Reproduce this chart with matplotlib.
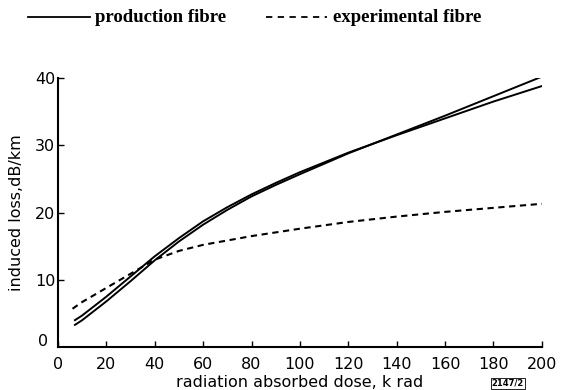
import matplotlib
matplotlib.use('Agg')
import matplotlib.pyplot as plt
from matplotlib.lines import Line2D

# induced loss vs absorbed dose
dose_a = [7, 10, 20, 30, 40, 50, 60, 70, 80, 90, 100, 120, 140, 160, 180, 200]
prod_a = [3.3, 4.0, 6.8, 9.8, 12.9, 15.7, 18.2, 20.4, 22.4, 24.1, 25.7, 28.8, 31.6, 34.4, 37.3, 40.2]
dose_b = [7, 10, 20, 30, 40, 50, 60, 70, 80, 90, 100, 120, 140, 160, 180, 200]
prod_b = [4.0, 4.7, 7.5, 10.5, 13.5, 16.2, 18.7, 20.8, 22.7, 24.4, 26.0, 28.9, 31.5, 34.0, 36.5, 38.8]
dose_exp = [6, 10, 20, 30, 40, 50, 60, 80, 100, 120, 140, 160, 180, 200]
exp_loss = [5.7, 6.7, 8.8, 10.9, 13.0, 14.3, 15.2, 16.5, 17.6, 18.6, 19.4, 20.1, 20.7, 21.3]

xticks = [0, 20, 40, 60, 80, 100, 120, 140, 160, 180, 200]
yticks = [10, 20, 30, 40]

fig = plt.figure(figsize=(5.74, 3.9), dpi=100)
ax = fig.add_axes([0.101, 0.110, 0.843, 0.690])

ax.plot(dose_a, prod_a, color='black', lw=1.4)
ax.plot(dose_b, prod_b, color='black', lw=1.4)
ax.plot(dose_exp, exp_loss, color='black', lw=1.5, ls=(0, (3, 2.2)))

ax.set_xlim(0, 200)
ax.set_ylim(0, 40)
for side in ['top', 'right']:
    ax.spines[side].set_visible(False)
ax.spines['left'].set_linewidth(1.5)
ax.spines['bottom'].set_linewidth(1.5)

ax.set_xticks(xticks)
ax.set_yticks(yticks)
ax.tick_params(direction='in', length=4, width=1, labelsize=11.5, pad=2)
ax.tick_params(axis='x', pad=7)
# the y origin label sits up and left of the corner
ax.text(-4, 0.9, '0', ha='right', va='center', fontsize=11.5)

ax.set_xlabel('radiation absorbed dose, k rad', fontsize=11.5, labelpad=2)
ax.set_ylabel('induced loss,dB/km', fontsize=11.5, labelpad=8)
ax.text(0.93, -0.135, '2147/2', transform=ax.transAxes, fontsize=6,
        ha='center', va='center', fontweight='bold',
        bbox=dict(boxstyle='square,pad=0.1', fc='none', ec='black', lw=0.6))

# key above the plot
fig.add_artist(Line2D([0.049, 0.157], [0.956, 0.956], color='black', lw=1.3))
fig.text(0.166, 0.954, 'production fibre', family='Liberation Serif',
         fontweight='bold', fontsize=13.5, va='center')
fig.add_artist(Line2D([0.463, 0.570], [0.956, 0.956], color='black', lw=1.3,
                      ls=(0, (3.5, 3))))
fig.text(0.580, 0.954, 'experimental fibre', family='Liberation Serif',
         fontweight='bold', fontsize=13.5, va='center')

fig.savefig('out.png', dpi=100)
